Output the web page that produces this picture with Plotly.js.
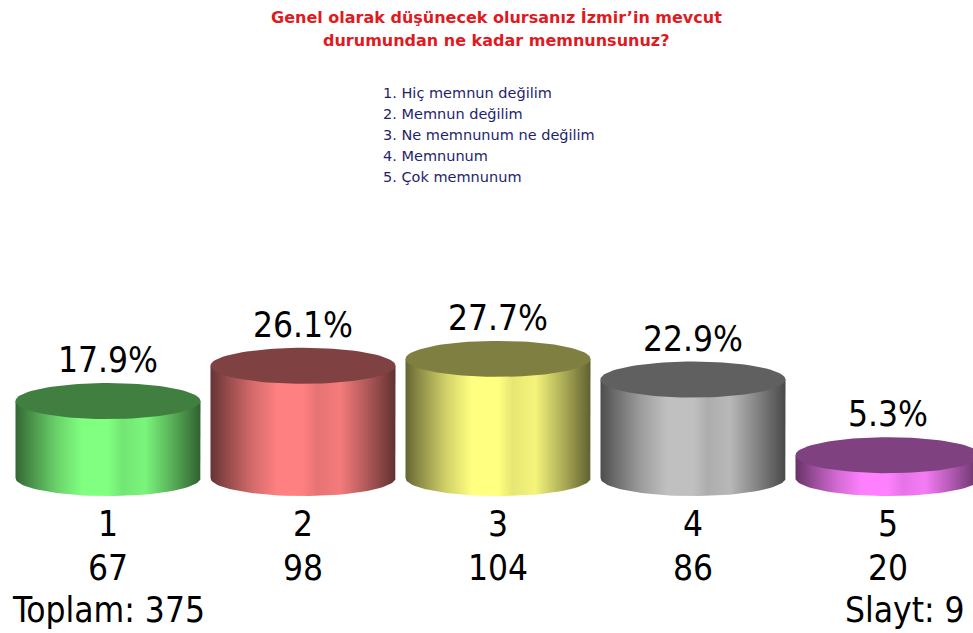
<!DOCTYPE html>
<html>
<head>
<meta charset="utf-8">
<script src="https://cdn.plot.ly/plotly-3.0.1.min.js"></script>
<style>html,body{margin:0;padding:0;background:#fff;}#chart{width:973px;height:633px;}</style>
</head>
<body>
<div id="chart"></div>
<script>
// ---- data ----
const categories = ['1', '2', '3', '4', '5'];
const percents = [17.9, 26.1, 27.7, 22.9, 5.3];
const counts = [67, 98, 104, 86, 20];
const total = 375;
const slide = 9;
const titleLines = ['Genel olarak düşünecek olursanız İzmir’in mevcut', 'durumundan ne kadar memnunsunuz?'];
const legendLines = ['1. Hiç memnun değilim', '2. Memnun değilim', '3. Ne memnunum ne değilim', '4. Memnunum', '5. Çok memnunum'];

// ---- styles ----
const brightColors = [[128, 255, 128], [255, 128, 128], [255, 255, 128], [192, 192, 192], [255, 128, 255]];
const topColors = ['#417f41', '#7f4141', '#7f7f41', '#606060', '#7f417f'];
const shadeProfile = [[0, 0.4], [0.08, 0.56], [0.22, 0.82], [0.36, 1.0], [0.5, 1.0], [0.58, 0.9], [0.7, 0.96], [0.84, 0.7], [1, 0.38]];

const W = 973, H = 633;
const pxPerX = 195, firstCenterPx = 108;
const zeroPx = 478, pxPerY = 4.3;
const xr0 = -firstCenterPx / pxPerX, xr1 = xr0 + W / pxPerX;
const yr0 = -(H - zeroPx) / pxPerY, yr1 = yr0 + H / pxPerY;
const halfW = 92.5 / pxPerX;
const ellB = 18 / pxPerY;

function shade(rgb, f) {
  return 'rgb(' + rgb.map(c => Math.round(c * f)).join(',') + ')';
}

const traces = [];
const N = 48;
categories.forEach((cat, i) => {
  const v = percents[i];
  // body
  const bx = [i - halfW, i - halfW, i + halfW, i + halfW];
  const by = [0, v, v, 0];
  for (let k = 0; k <= N; k++) {
    const t = Math.PI * k / N;
    bx.push(i + halfW * Math.cos(t));
    by.push(-ellB * Math.sin(t));
  }
  traces.push({
    type: 'scatter', mode: 'lines', x: bx, y: by, fill: 'toself',
    line: {width: 0, color: 'rgba(0,0,0,0)'},
    fillgradient: {type: 'horizontal', colorscale: shadeProfile.map(p => [p[0], shade(brightColors[i], p[1])])},
    hoverinfo: 'skip', showlegend: false
  });
  // top face
  const tx = [], ty = [];
  for (let k = 0; k <= 2 * N; k++) {
    const t = Math.PI * k / N;
    tx.push(i + halfW * Math.cos(t));
    ty.push(v + ellB * Math.sin(t));
  }
  traces.push({
    type: 'scatter', mode: 'lines', x: tx, y: ty, fill: 'toself',
    fillcolor: topColors[i], line: {width: 0, color: 'rgba(0,0,0,0)'},
    hoverinfo: 'skip', showlegend: false
  });
});

const bigFont = {family: '"DejaVu Sans Condensed", "DejaVu Sans", sans-serif', size: 35, color: '#000'};
const annotations = [];
categories.forEach((cat, i) => {
  annotations.push({x: i, y: percents[i], xref: 'x', yref: 'y', text: percents[i].toFixed(1) + '%',
    showarrow: false, yshift: 41, yanchor: 'middle', font: bigFont});
  annotations.push({x: i, y: 1 - 524 / H, xref: 'x', yref: 'paper', text: cat,
    showarrow: false, yanchor: 'middle', font: bigFont});
  annotations.push({x: i, y: 1 - 568 / H, xref: 'x', yref: 'paper', text: String(counts[i]),
    showarrow: false, yanchor: 'middle', font: bigFont});
});
annotations.push({x: 10 / W, y: 1 - 610 / H, xref: 'paper', yref: 'paper', text: 'Toplam: ' + total,
  showarrow: false, xanchor: 'left', yanchor: 'middle', font: bigFont});
annotations.push({x: 967 / W, y: 1 - 610 / H, xref: 'paper', yref: 'paper', text: 'Slayt: ' + slide,
  showarrow: false, xanchor: 'right', yanchor: 'middle', font: bigFont});
titleLines.forEach((t, k) => {
  annotations.push({x: 496 / W, y: 1 - (18 + 22 * k) / H, xref: 'paper', yref: 'paper', text: '<b>' + t + '</b>',
    showarrow: false, xanchor: 'center', yanchor: 'middle',
    font: {family: '"DejaVu Sans", Verdana, sans-serif', size: 16, color: '#e01a1f'}});
});
legendLines.forEach((t, k) => {
  annotations.push({x: 381 / W, y: 1 - (93 + 21 * k) / H, xref: 'paper', yref: 'paper', text: t,
    showarrow: false, xanchor: 'left', yanchor: 'middle',
    font: {family: '"DejaVu Sans", Verdana, sans-serif', size: 14.5, color: '#1f1f6b'}});
});

const layout = {
  width: W, height: H,
  margin: {l: 0, r: 0, t: 0, b: 0, pad: 0},
  paper_bgcolor: '#fff', plot_bgcolor: '#fff',
  xaxis: {range: [xr0, xr1], visible: false, fixedrange: true},
  yaxis: {range: [yr0, yr1], visible: false, fixedrange: true},
  showlegend: false,
  annotations: annotations
};
Plotly.newPlot('chart', traces, layout, {displayModeBar: false, staticPlot: true});
</script>
</body>
</html>
